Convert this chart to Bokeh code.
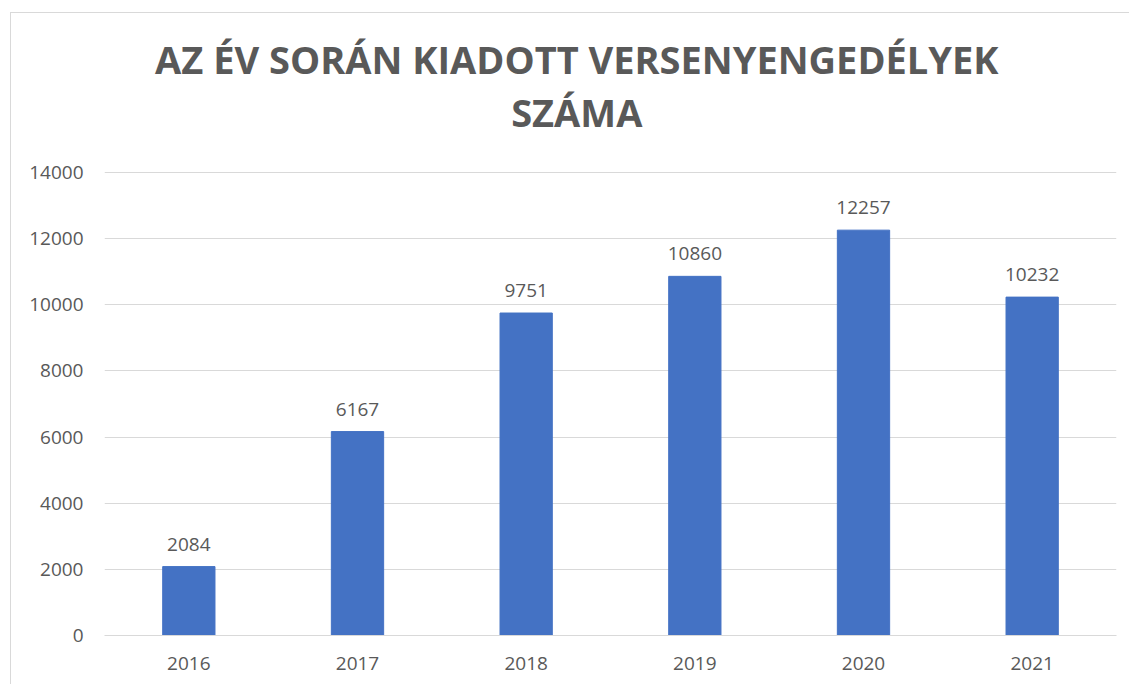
from bokeh.plotting import figure
from bokeh.models import ColumnDataSource, Label, LabelSet, FactorRange, FixedTicker, Range1d
from bokeh.core.properties import value
from bokeh.embed import file_html
from bokeh.resources import INLINE

years = ["2016", "2017", "2018", "2019", "2020", "2021"]
counts = [2084, 6167, 9751, 10860, 12257, 10232]
y_ticks = [0, 2000, 4000, 6000, 8000, 10000, 12000, 14000]
title_line1 = "AZ ÉV SORÁN KIADOTT VERSENYENGEDÉLYEK"
title_line2 = "SZÁMA"

TEXT = "#595959"
GRID = "#d9d9d9"
BAR = "#4472C4"
FONT = "Open Sans"

src = ColumnDataSource(dict(x=years, y=counts, lbl=[str(c) for c in counts]))

# frame extends upward to host the title; gridlines/ticks stop at 14000
p = figure(
    x_range=FactorRange(*years, range_padding=0),
    y_range=Range1d(0, 18566),
    width=1119, height=672,
    output_backend="svg", toolbar_location=None,
    min_border_left=93, min_border_right=14, min_border_top=8, min_border_bottom=50,
    margin=(12, 0, 0, 10),
)
p.styles = {"border-top": "1px solid #d9d9d9", "border-left": "1px solid #d9d9d9"}
p.outline_line_color = None
p.background_fill_color = "white"
p.border_fill_color = "white"

p.vbar(x="x", top="y", width=0.31, source=src, fill_color=BAR, line_color=BAR, line_width=1)

p.add_layout(LabelSet(x="x", y="y", text="lbl", source=src, text_align="center",
                      text_baseline="alphabetic", y_offset=16,
                      text_font=value(FONT), text_font_size="19px", text_color=TEXT))

p.xgrid.grid_line_color = None
p.ygrid.grid_line_color = GRID
p.ygrid.grid_line_width = 1
p.ygrid.ticker = FixedTicker(ticks=y_ticks)

p.yaxis.ticker = FixedTicker(ticks=y_ticks)
p.yaxis.axis_line_color = None
p.yaxis.major_tick_line_color = None
p.yaxis.minor_tick_line_color = None
p.yaxis.major_label_text_font = FONT
p.yaxis.major_label_text_font_size = "19px"
p.yaxis.major_label_text_color = TEXT
p.yaxis.major_label_standoff = 15

p.xaxis.axis_line_color = GRID
p.xaxis.major_tick_line_color = None
p.xaxis.minor_tick_line_color = None
p.xaxis.major_label_text_font = FONT
p.xaxis.major_label_text_font_size = "19px"
p.xaxis.major_label_text_color = TEXT
p.xaxis.major_label_standoff = 15

for txt, yy in [(title_line1, 17444), (title_line2, 15844)]:
    p.add_layout(Label(x=2.80, y=yy, text=txt,
                       text_align="center", text_baseline="alphabetic",
                       text_font=FONT, text_font_style="bold", text_font_size="38px",
                       text_color=TEXT))

open("out.html", "w").write(file_html(p, INLINE))
